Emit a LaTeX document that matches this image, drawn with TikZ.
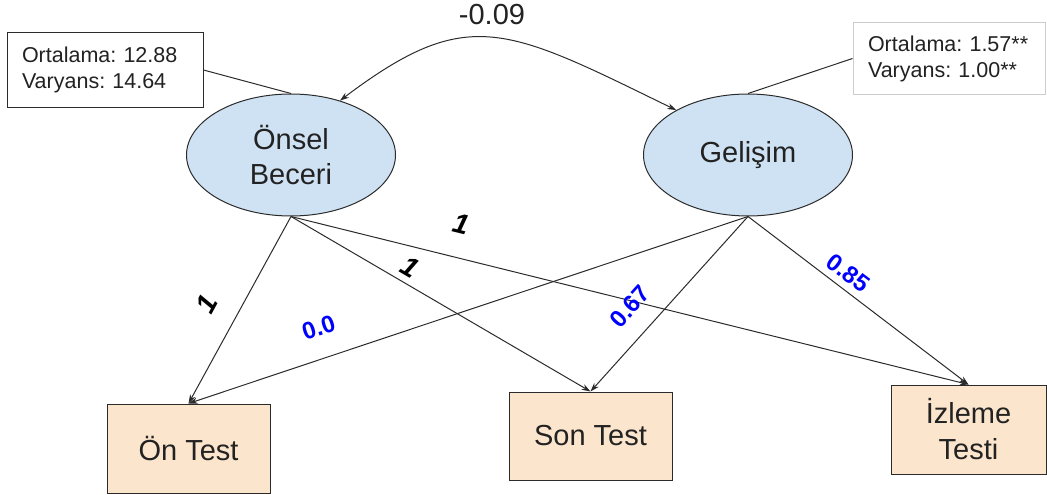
\documentclass[tikz,border=0pt]{standalone}
\usepackage{fontspec}
\setmainfont{Liberation Sans}
\usepackage{xcolor}
\usetikzlibrary{shapes.geometric,arrows.meta}

\definecolor{latent}{HTML}{CFE2F3}
\definecolor{observed}{HTML}{FCE5CD}
\definecolor{edge}{HTML}{2B2B2B}
\definecolor{ink}{HTML}{222222}

\begin{document}
\frenchspacing
\begin{tikzpicture}[x=1pt, y=-1pt, line width=1pt, >={Stealth[length=9pt,width=6pt]},
    every node/.style={text=ink},
    latentvar/.style={ellipse, draw=edge, fill=latent, minimum width=209pt, minimum height=122pt,
      inner sep=0pt, align=center, font=\fontsize{29}{35}\selectfont},
    testbox/.style={rectangle, draw=edge, fill=observed, minimum height=89pt, inner sep=0pt,
      align=center, font=\fontsize{29}{36}\selectfont},
    infobox/.style={rectangle, fill=white, inner xsep=15pt, inner ysep=0pt, align=left,
      font=\fontsize{21.5}{26}\selectfont},
    loading/.style={draw=edge, ->},
    fixlab/.style={inner sep=0pt, text=black, font=\fontsize{28}{30}\selectfont\bfseries\itshape},
    estlab/.style={inner sep=0pt, text=blue, font=\fontsize{24}{26}\selectfont\bfseries}]
  \useasboundingbox (0,0) rectangle (1047,495);

  % latent factors
  \node[latentvar] (onsel) at (291,155) {Önsel\\Beceri};
  \node[latentvar] (gelisim) at (748,155) {Gelişim};

  % observed tests
  \node[testbox, minimum width=163pt] (ontest) at (188.5,448.5) {Ön Test};
  \node[testbox, minimum width=163pt, minimum height=88pt] (sontest) at (590.5,436) {Son Test};
  \node[testbox, minimum width=155pt] (izleme) at (968.5,429.5) {İzleme\\Testi};

  % means and variances
  \node[infobox, draw=edge, minimum width=196pt, minimum height=74pt, text width=166pt]
    (infoL) at (105,70) {Ortalama: 12.88\\Varyans: 14.64};
  \node[infobox, draw=gray!40, minimum width=192pt, minimum height=71pt, text width=162pt]
    (infoR) at (949,58.5) {Ortalama: 1.57**\\Varyans: 1.00**};
  \draw[draw=edge] (infoL.east) -- (onsel.north);
  \draw[draw=edge] (infoR.west) -- (gelisim.north);

  % covariance
  \draw[draw=edge, <->] (gelisim.148) .. controls +(-171,-83.5) and +(128,-96.5) .. (onsel.48)
    node[midway, above=9pt, font=\fontsize{29}{35}\selectfont] (cov) {-0.09};

  % loadings
  \foreach \t/\p/\d in {ontest/0.55/22, sontest/0.37/6.5, izleme/0.24/23.5}
    \draw[loading] (onsel.south) -- (\t.north) node[fixlab, pos=\p, sloped, above=\d pt] {1};
  \foreach \t/\p/\d/\v in {ontest/0.75/22/0.0, sontest/0.62/18.5/0.67, izleme/0.41/7/0.85}
    \draw[loading] (gelisim.south) -- (\t.north) node[estlab, pos=\p, sloped, above=\d pt] {\v};
\end{tikzpicture}
\end{document}
